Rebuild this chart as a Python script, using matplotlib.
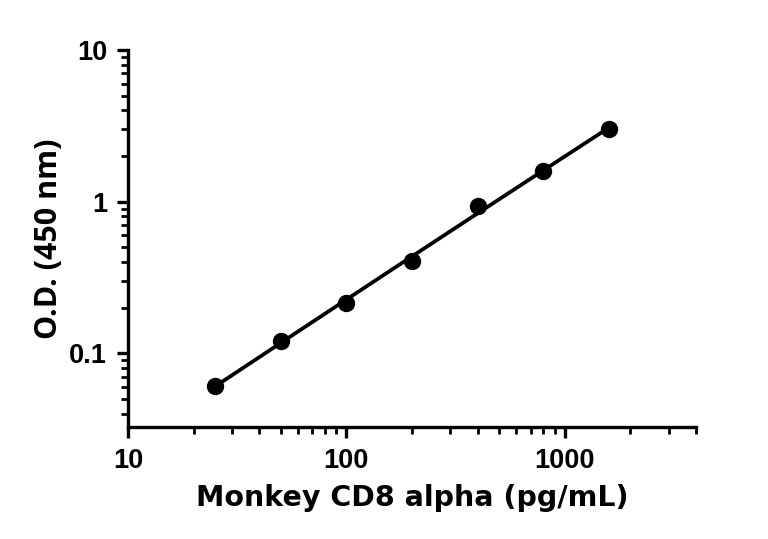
import numpy as np
import matplotlib
matplotlib.use("Agg")
import matplotlib.pyplot as plt
from matplotlib import font_manager as fm
from matplotlib.ticker import LogLocator, FixedLocator, NullFormatter, FixedFormatter

# Data
concentration = [25, 50, 100, 200, 400, 800, 1600]
od_450 = [0.0605, 0.121, 0.213, 0.408, 0.937, 1.596, 3.01]
x_ticks = [10, 100, 1000]
x_tick_labels = ["10", "100", "1000"]
y_ticks = [0.1, 1, 10]
y_tick_labels = ["0.1", "1", "10"]
x_label = "Monkey CD8 alpha (pg/mL)"
y_label = "O.D. (450 nm)"

names = {f.name for f in fm.fontManager.ttflist}
if "Liberation Sans Narrow" in names:
    tickfont, ticksize, tickstretch = "Liberation Sans Narrow", 19, "normal"
else:
    tickfont, ticksize, tickstretch = "Liberation Sans", 19.5, "condensed"

fig = plt.figure(figsize=(7.68, 5.39), dpi=100)
ax = fig.add_axes([128/768, 1-427/539, (696-128)/768, (427-50)/539])

# fitted curve (log-log fit from data)
lx = np.log10(concentration)
ly = np.log10(od_450)
coef = np.polyfit(lx, ly, 2)
xs = np.logspace(lx.min(), lx.max(), 200)
ax.plot(xs, 10**np.polyval(coef, np.log10(xs)), color="black", lw=2.7, zorder=2)
ax.plot(concentration, od_450, "o", color="black", ms=11.5, zorder=3)

ax.set_xscale("log")
ax.set_yscale("log")
ax.set_xlim(10, 4000)
ax.set_ylim(0.0326, 10)

for s in ["top", "right"]:
    ax.spines[s].set_visible(False)
for s in ["left", "bottom"]:
    ax.spines[s].set_linewidth(2.4)

ax.xaxis.set_major_locator(FixedLocator(x_ticks))
ax.xaxis.set_major_formatter(FixedFormatter(x_tick_labels))
ax.yaxis.set_major_locator(FixedLocator(y_ticks))
ax.yaxis.set_major_formatter(FixedFormatter(y_tick_labels))
ax.xaxis.set_minor_locator(LogLocator(base=10, subs=np.arange(2, 10), numticks=20))
ax.yaxis.set_minor_locator(LogLocator(base=10, subs=np.arange(2, 10), numticks=20))
ax.xaxis.set_minor_formatter(NullFormatter())
ax.yaxis.set_minor_formatter(NullFormatter())
ax.tick_params(which="major", length=8, width=2.4, direction="out", pad=7)
ax.tick_params(which="minor", length=5, width=2.0, direction="out")
for lab in ax.get_xticklabels() + ax.get_yticklabels():
    lab.set_fontfamily([tickfont, "DejaVu Sans"])
    lab.set_fontweight("bold")
    lab.set_fontsize(ticksize)
    lab.set_fontstretch(tickstretch)

ax.set_xlabel(x_label, fontsize=20.5, fontweight="bold", family=["DejaVu Sans"], labelpad=7)
ax.set_ylabel(y_label, fontsize=22, fontweight="bold", family=["Open Sans", "DejaVu Sans"], labelpad=4)

fig.savefig("out.png", dpi=100)
